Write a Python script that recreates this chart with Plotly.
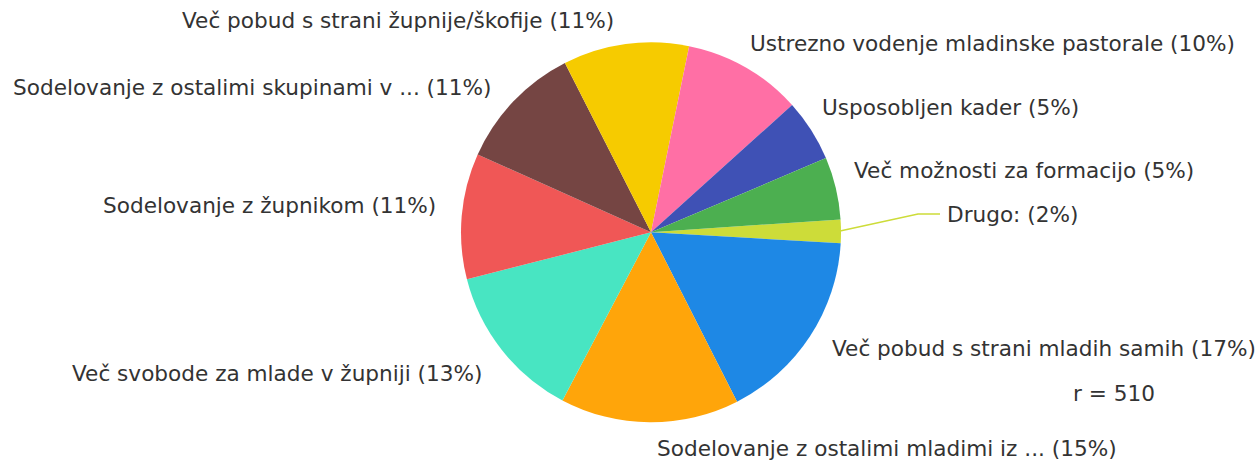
import plotly.graph_objects as go

# Data (clockwise from the small "Drugo" slice)
categories = [
    "Drugo:",
    "Več pobud s strani mladih samih",
    "Sodelovanje z ostalimi mladimi iz ...",
    "Več svobode za mlade v župniji",
    "Sodelovanje z župnikom",
    "Sodelovanje z ostalimi skupinami v ...",
    "Več pobud s strani župnije/škofije",
    "Ustrezno vodenje mladinske pastorale",
    "Usposobljen kader",
    "Več možnosti za formacijo",
]
values = [20, 166, 152, 133, 107, 108, 107, 101, 53, 53]
percent_labels = ["2%", "17%", "15%", "13%", "11%", "11%", "11%", "10%", "5%", "5%"]
respondents = 510

colors = ["#cddc39", "#1e88e5", "#ffa50a", "#48e5c2", "#f05756", "#754543",
          "#f6cb00", "#ff6fa5", "#3f51b5", "#4caf50"]

W, H = 1260, 462
# label placement (pixels): x, y(center), anchor
label_pos = [
    (945, 214, "left"),
    (830, 348, "left"),
    (655, 448, "left"),
    (484, 373, "right"),
    (438, 205, "right"),
    (493, 87, "right"),
    (616, 21, "right"),
    (748, 43, "left"),
    (820, 108, "left"),
    (852, 170, "left"),
]

fig = go.Figure()
fig.add_trace(go.Pie(
    labels=categories,
    values=values,
    sort=False,
    direction="clockwise",
    rotation=86.1,
    marker=dict(colors=colors, line=dict(width=0)),
    textinfo="none",
    hoverinfo="label+percent",
    showlegend=False,
    domain=dict(x=[461 / W, 841 / W], y=[(H - 422.3) / H, (H - 42.3) / H]),
))

font = dict(family="DejaVu Sans, Verdana, sans-serif", size=21.6, color="#333333")
annotations = []
for cat, pct, (px, py, anch) in zip(categories, percent_labels, label_pos):
    annotations.append(dict(
        text=f"{cat} ({pct})", x=px / W, y=1 - py / H, xref="paper", yref="paper",
        xanchor=anch, yanchor="middle", showarrow=False, font=font,
    ))
annotations.append(dict(
    text=f"r = {respondents}", x=1071 / W, y=1 - 393 / H, xref="paper", yref="paper",
    xanchor="left", yanchor="middle", showarrow=False, font=font,
))

# leader line for the small slice
shapes = [
    dict(type="path", xref="paper", yref="paper",
         path=f"M {840 / W} {1 - 231 / H} L {918 / W} {1 - 214 / H} L {940 / W} {1 - 214 / H}",
         line=dict(color="#cddc39", width=1.5)),
]

fig.update_layout(
    width=W, height=H,
    margin=dict(l=0, r=0, t=0, b=0),
    paper_bgcolor="white", plot_bgcolor="white",
    annotations=annotations, shapes=shapes,
)

fig.write_html(
    "out.html",
    config={"displayModeBar": False},
    post_script="document.body.style.margin='0';document.body.style.overflow='hidden';",
)
